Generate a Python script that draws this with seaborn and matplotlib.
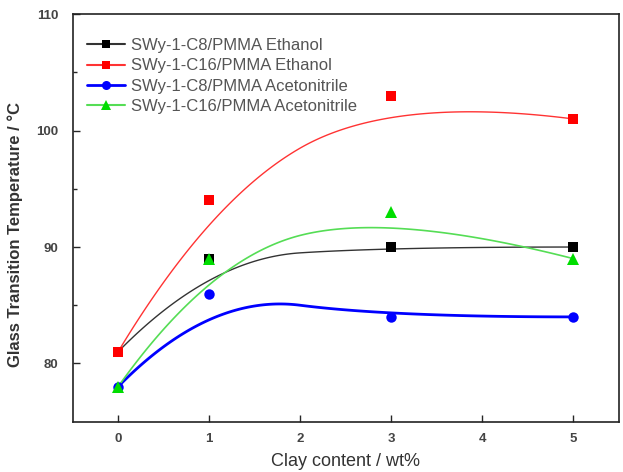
import numpy as np
import matplotlib
matplotlib.use("Agg")
import matplotlib.pyplot as plt
from matplotlib.lines import Line2D
import seaborn as sns

# data
clay = [0, 1, 3, 5]
c8_ethanol = [81, 89, 90, 90]
c16_ethanol = [81, 94, 103, 101]
c8_acn = [78, 86, 84, 84]
c16_acn = [78, 89, 93, 89]

labels = ["SWy-1-C8/PMMA Ethanol", "SWy-1-C16/PMMA Ethanol",
          "SWy-1-C8/PMMA Acetonitrile", "SWy-1-C16/PMMA Acetonitrile"]
series = [c8_ethanol, c16_ethanol, c8_acn, c16_acn]
colors = ["black", "#ff0000", "#0000ff", "#00dd00"]
line_colors = ["#333333", "#ff3333", "#0000ff", "#55dd55"]
line_widths = [1.0, 1.0, 2.0, 1.2]
markers = ["s", "s", "o", "^"]
msizes = [7, 7, 7.5, 8]


# quadratic B-spline with the data as control points (Origin style smoothing)
def bspline2(xs, ys, n=60):
    pts = np.column_stack([xs, ys]).astype(float)
    mids = (pts[1:-2] + pts[2:-1]) / 2
    starts = [pts[0]] + list(mids)
    ends = list(mids) + [pts[-1]]
    ctrls = pts[1:-1]
    out = []
    u = np.linspace(0, 1, n)[:, None]
    for a, c, b in zip(starts, ctrls, ends):
        out.append((1 - u) ** 2 * a + 2 * u * (1 - u) * c + u ** 2 * b)
    out = np.vstack(out)
    return out[:, 0], out[:, 1]


sns.set_style("ticks")
plt.rcParams['font.family'] = ['Liberation Sans', 'DejaVu Sans']

fig = plt.figure(figsize=(6.23, 4.72), dpi=100)
ax = fig.add_axes([0.1164, 0.1066, 0.8772, 0.8634])

for ys, lc, lw in zip(series, line_colors, line_widths):
    sx, sy = bspline2(clay, ys)
    sns.lineplot(x=sx, y=sy, sort=False, color=lc, linewidth=lw, ax=ax, estimator=None)
for ys, col, mk, ms in zip(series, colors, markers, msizes):
    ax.plot(clay, ys, linestyle="none", marker=mk, markersize=ms, color=col, markeredgewidth=0)

ax.set_xlim(-0.5, 5.5)
ax.set_ylim(75, 110)
ax.set_xticks([0, 1, 2, 3, 4, 5])
ax.set_yticks([80, 90, 100, 110])
ax.set_yticks([85, 95, 105], minor=True)
ax.tick_params(axis="both", direction="in", length=5, width=1, labelsize=9.5,
               labelcolor="#444444", top=False, right=False)
ax.tick_params(axis="y", which="minor", direction="in", length=3, width=1, right=False)
for t in ax.get_xticklabels() + ax.get_yticklabels():
    t.set_fontweight("bold")
ax.tick_params(axis="x", pad=8)
ax.tick_params(axis="y", pad=10)
for sp in ax.spines.values():
    sp.set_visible(True)
    sp.set_linewidth(1.2)
    sp.set_color("#222222")

ax.set_xlabel("Clay content / wt%", fontsize=13, color="#333333")
ax.xaxis.set_label_coords(0.5, -0.077)
ax.set_ylabel("Glass Transition Temperature / °C", fontsize=12, fontweight="bold",
              color="#333333")
ax.yaxis.set_label_coords(-0.09, 0.46)

handles = []
for col, lc, lw, mk, ms in zip(colors, line_colors, line_widths, markers, msizes):
    handles.append(Line2D([], [], color=lc, linewidth=max(lw, 1.5), marker=mk,
                          markersize=ms - 1, markerfacecolor=col, markeredgewidth=0))
leg = ax.legend(handles, labels, loc="upper left", bbox_to_anchor=(0.005, 0.97),
                frameon=False, fontsize=12, handlelength=2.3, handletextpad=0.35,
                labelspacing=0.32, borderaxespad=0.3)
for t in leg.get_texts():
    t.set_color("#555555")

fig.savefig("out.png", dpi=100)
